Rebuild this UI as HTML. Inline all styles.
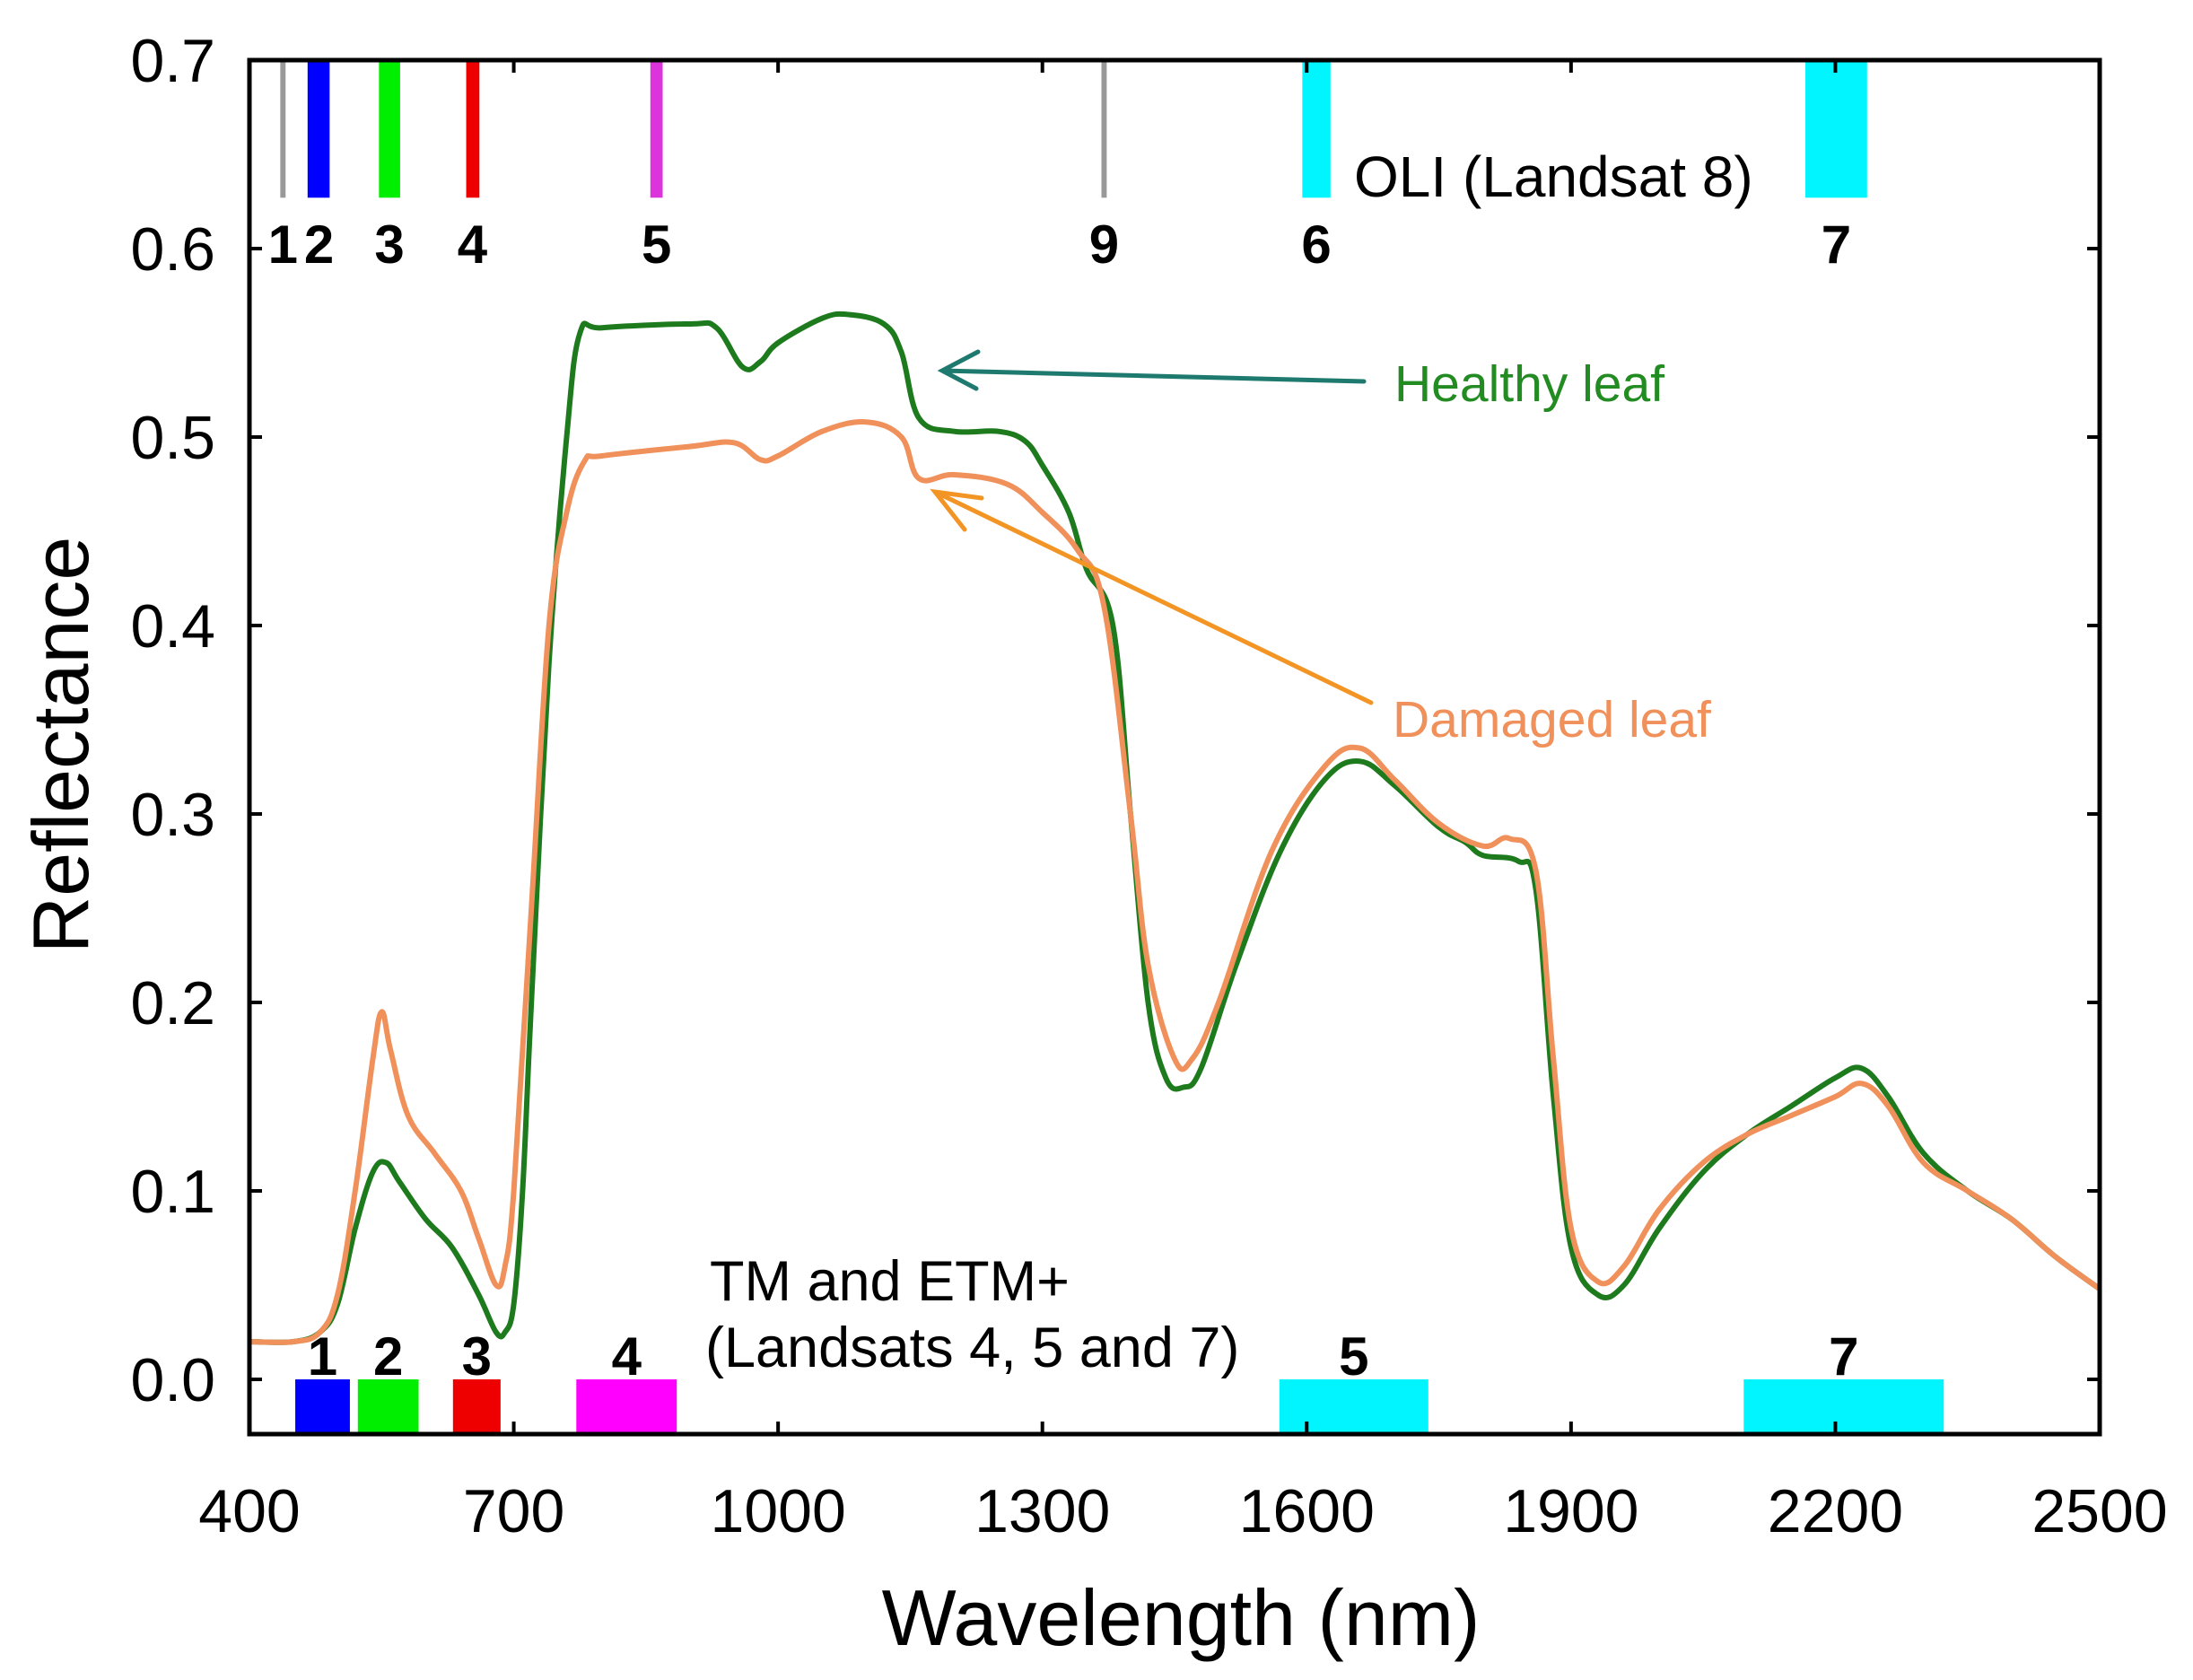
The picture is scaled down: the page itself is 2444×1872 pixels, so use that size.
<!DOCTYPE html>
<html><head><meta charset="utf-8"><style>
html,body{margin:0;padding:0;background:#fff;}
svg{display:block;font-family:"Liberation Sans",Arial,sans-serif;}
</style></head><body>
<svg id="chart" width="2444" height="1872" viewBox="0 0 2444 1872" xmlns="http://www.w3.org/2000/svg">
<g id="bands"></g>
<g id="curves"></g>
<g id="axes"></g>
<g id="notes"></g>
</svg>
<script>
const xTicks=[400,700,1000,1300,1600,1900,2200,2500];
const yTicks=[0.0,0.1,0.2,0.3,0.4,0.5,0.6,0.7];
const healthyWl=[400,450,480,500,520,540,555,570,600,630,660,680,690,700,710,720,740,760,775,800,900,930,960,980,1000,1050,1080,1120,1140,1160,1200,1250,1280,1300,1330,1350,1380,1400,1420,1440,1460,1480,1520,1570,1620,1660,1700,1750,1780,1800,1840,1860,1880,1900,1930,1960,2000,2050,2100,2150,2200,2230,2260,2300,2350,2400,2450,2500];
const healthyR=[0.02,0.02,0.025,0.04,0.08,0.11,0.115,0.105,0.085,0.07,0.045,0.025,0.025,0.04,0.1,0.2,0.38,0.5,0.555,0.558,0.56,0.558,0.537,0.54,0.55,0.563,0.565,0.56,0.545,0.51,0.503,0.503,0.498,0.485,0.46,0.43,0.4,0.3,0.2,0.16,0.155,0.165,0.22,0.28,0.318,0.328,0.315,0.293,0.285,0.278,0.275,0.26,0.15,0.07,0.045,0.05,0.08,0.11,0.13,0.145,0.16,0.165,0.15,0.12,0.1,0.085,0.065,0.048];
const damagedWl=[400,450,480,500,520,540,550,560,580,610,640,660,680,690,700,720,740,760,780,800,900,950,980,1000,1050,1100,1140,1160,1200,1260,1300,1340,1370,1400,1420,1450,1470,1500,1560,1620,1660,1700,1750,1800,1830,1860,1880,1900,1930,1960,2000,2050,2100,2150,2200,2230,2260,2300,2350,2400,2450,2500];
const damagedR=[0.02,0.02,0.025,0.045,0.1,0.17,0.195,0.175,0.14,0.12,0.1,0.075,0.05,0.06,0.1,0.25,0.4,0.46,0.487,0.49,0.495,0.497,0.488,0.49,0.503,0.508,0.5,0.478,0.48,0.475,0.46,0.44,0.41,0.3,0.22,0.17,0.17,0.2,0.28,0.325,0.335,0.318,0.295,0.283,0.287,0.27,0.17,0.08,0.052,0.06,0.09,0.115,0.13,0.14,0.15,0.157,0.145,0.115,0.1,0.085,0.065,0.048];
const oliNames=["1","2","3","4","5","9","6","7"];
const oliStart=[435,466,547,646,855,1367,1595,2166];
const oliEnd=[441,491,571,661,869,1373,1627,2236];
const oliColors=["#999999","#0000ff","#00ee00","#ee0000","#dd33dd","#999999","#00f5ff","#00f5ff"];
const oliLabelWl=[438,479,559,653,862,1370,1611,2201];
const tmNames=["1","2","3","4","5","7"];
const tmStart=[452,523,631,771,1569,2096];
const tmEnd=[514,592,685,885,1738,2323];
const tmColors=["#0000ff","#00ee00","#ee0000","#ff00ff","#00f5ff","#00f5ff"];

const L=278,R=2340,T=67,B=1598;
const X=w=>L+(w-400)*(R-L)/2100;
const Y=v=>1537-v*2100;
const NS="http://www.w3.org/2000/svg";
function mk(parent,tag,attrs,text){const e=document.createElementNS(NS,tag);for(const k in attrs)e.setAttribute(k,attrs[k]);if(text!==undefined)e.textContent=text;parent.appendChild(e);return e;}
const gB=document.getElementById('bands'),gC=document.getElementById('curves'),gA=document.getElementById('axes');

for(let i=0;i<oliNames.length;i++){
  const r=mk(gB,'rect',{x:X(oliStart[i]),y:T,width:Math.max(4,X(oliEnd[i])-X(oliStart[i])),height:Y(0.627)-T,fill:oliColors[i]});
  
  
  const t=mk(gB,'text',{x:X(oliLabelWl[i]),y:293,'font-size':60,'font-weight':'bold','text-anchor':'middle',fill:'#000'},oliNames[i]);
  
  
}
for(let i=0;i<tmNames.length;i++){
  const r=mk(gB,'rect',{x:X(tmStart[i]),y:Y(0),width:X(tmEnd[i])-X(tmStart[i]),height:B-Y(0),fill:tmColors[i]});
  
  
  const t=mk(gB,'text',{x:(X(tmStart[i])+X(tmEnd[i]))/2,y:1532,'font-size':60,'font-weight':'bold','text-anchor':'middle',fill:'#000'},tmNames[i]);
  
  
}
function path(wl,r){
  const p=wl.map((w,i)=>[X(w),Y(r[i])]);
  let d='M'+p[0][0].toFixed(1)+','+p[0][1].toFixed(1);
  for(let i=0;i<p.length-1;i++){
    const p0=p[Math.max(0,i-1)],p1=p[i],p2=p[i+1],p3=p[Math.min(p.length-1,i+2)];
    const k=0.18;
    const c1=[p1[0]+(p2[0]-p0[0])*k,p1[1]+(p2[1]-p0[1])*k];
    const c2=[p2[0]-(p3[0]-p1[0])*k,p2[1]-(p3[1]-p1[1])*k];
    d+='C'+c1[0].toFixed(1)+','+c1[1].toFixed(1)+' '+c2[0].toFixed(1)+','+c2[1].toFixed(1)+' '+p2[0].toFixed(1)+','+p2[1].toFixed(1);
  }
  return d;
}
const ph=mk(gC,'path',{d:path(healthyWl,healthyR),fill:'none',stroke:'#1d7a1d','stroke-width':6,'stroke-linejoin':'round'});


const pd=mk(gC,'path',{d:path(damagedWl,damagedR),fill:'none',stroke:'#f0905a','stroke-width':6,'stroke-linejoin':'round'});



const fr=mk(gA,'rect',{x:L,y:T,width:R-L,height:B-T,fill:'none',stroke:'#000','stroke-width':5});


for(const v of xTicks){
  if(v>400&&v<2500){mk(gA,'line',{x1:X(v),x2:X(v),y1:B,y2:B-14,stroke:'#000','stroke-width':4});mk(gA,'line',{x1:X(v),x2:X(v),y1:T,y2:T+14,stroke:'#000','stroke-width':4});}
  const t=mk(gA,'text',{x:X(v),y:1707,'font-size':68,'text-anchor':'middle',fill:'#000'},String(v));
  
  
}
for(const v of yTicks){
  if(v<0.7){mk(gA,'line',{x1:L,x2:L+14,y1:Y(v),y2:Y(v),stroke:'#000','stroke-width':4});mk(gA,'line',{x1:R,x2:R-14,y1:Y(v),y2:Y(v),stroke:'#000','stroke-width':4});}
  const t=mk(gA,'text',{x:240,y:Y(v)+24,'font-size':68,'text-anchor':'end',fill:'#000'},v.toFixed(1));
  
  
}
</script>
<script>
(function(){
const NS="http://www.w3.org/2000/svg";
const svg=document.getElementById('chart');
function add(tag,attrs,text){const e=document.createElementNS(NS,tag);for(const k in attrs)e.setAttribute(k,attrs[k]);if(text!==undefined)e.textContent=text;svg.appendChild(e);return e;}
let e;
e=add('text',{x:1316,y:1833,'font-size':88,'text-anchor':'middle',fill:'#000'},'Wavelength (nm)');


e=add('text',{x:0,y:0,'font-size':88,'text-anchor':'middle',fill:'#000',transform:'translate(98,830) rotate(-90)'},'Reflectance');


e=add('text',{x:1509,y:219,'font-size':64,fill:'#000'},'OLI (Landsat 8)');


e=add('text',{x:791,y:1449,'font-size':63,fill:'#000'},'TM and ETM+');


e=add('text',{x:786,y:1523,'font-size':63,fill:'#000'},'(Landsats 4, 5 and 7)');


e=add('text',{x:1554,y:447,'font-size':57,fill:'#228b22'},'Healthy leaf');


e=add('text',{x:1552,y:821,'font-size':57,fill:'#f0905a'},'Damaged leaf');


e=add('path',{d:'M1520,425 L1050,413 M1090,392 L1050,413 L1088,433',fill:'none',stroke:'#1e7a6e','stroke-width':5,'stroke-linecap':'round'});


e=add('path',{d:'M1528,783 L1042,548 M1094,555 L1042,548 L1075,590',fill:'none',stroke:'#f39524','stroke-width':5,'stroke-linecap':'round'});


})();
</script>
</body></html>
